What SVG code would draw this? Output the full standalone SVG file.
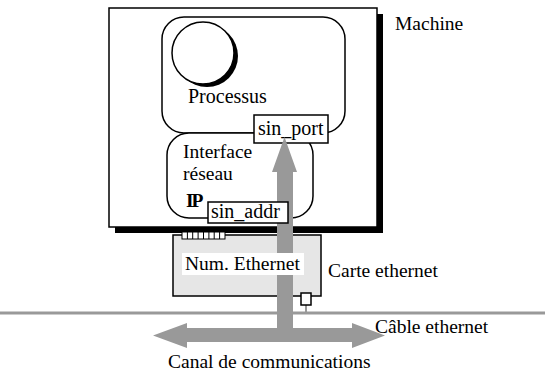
<svg xmlns="http://www.w3.org/2000/svg" width="545" height="375" viewBox="0 0 545 375">
<style>
text{font-family:"Liberation Serif","Times New Roman",serif;font-size:19.5px;fill:#000}
.box{fill:#fff;stroke:#000;stroke-width:1.5}
.arrow{fill:#999}
</style>
<rect width="545" height="375" fill="#fff"/>
<g id="machine">
<rect x="115" y="14" width="268" height="219" fill="#000"/>
<rect x="109" y="8" width="268" height="219" class="box"/>
<text x="395" y="30">Machine</text>
</g>
<g id="processus">
<rect x="162" y="17" width="183" height="116" rx="22" class="box"/>
<circle cx="207" cy="56" r="31" fill="#000"/>
<circle cx="203" cy="53" r="31" class="box"/>
<text x="188" y="103" style="font-size:20px">Processus</text>
</g>
<g id="interface">
<rect x="167" y="133" width="146" height="85" rx="22" class="box"/>
<text x="183" y="158">Interface</text>
<text x="183" y="180">réseau</text>
<text x="186" y="207" style="font-weight:bold;letter-spacing:-2px">IP</text>
</g>
<g id="sin_port">
<rect x="254" y="115" width="74" height="28" class="box"/>
<text x="258" y="135" style="font-size:20px">sin_port</text>
</g>
<g id="cable">
<line x1="0" y1="313" x2="545" y2="313" stroke="#999" stroke-width="3"/>
<text x="375" y="333">Câble ethernet</text>
</g>
<g id="carte">
<rect x="173" y="235" width="148" height="61" fill="#e6e6e6" stroke="#000" stroke-width="1.5"/>
<rect x="182" y="232" width="43" height="7" fill="#fff" stroke="#000" stroke-width="1"/>
<path d="M187.4 232v7M192.7 232v7M198.1 232v7M203.5 232v7M208.9 232v7M214.2 232v7M219.6 232v7" stroke="#000" stroke-width="1"/>
<line x1="306" y1="305" x2="306" y2="313" stroke="#999" stroke-width="2"/>
<rect x="301" y="293" width="10" height="12" class="box"/>
<text x="328" y="277">Carte ethernet</text>
</g>
<g id="connectors">
<path class="arrow" d="M277 172H272L284.5 137L297 172H293V328H352V323L385 335.5L352 348V342H187V348L153 335.5L187 323V328H277Z"/>
</g>
<g id="sin_addr">
<rect x="208" y="202" width="80" height="21" class="box"/>
<text x="211" y="218" style="font-size:20px">sin_addr</text>
</g>
<g id="num_ethernet">
<rect x="182" y="253" width="122" height="22" fill="#fff"/>
<text x="185" y="270">Num. Ethernet</text>
</g>
<g id="canal">
<text x="168" y="368">Canal de communications</text>
</g>
</svg>
